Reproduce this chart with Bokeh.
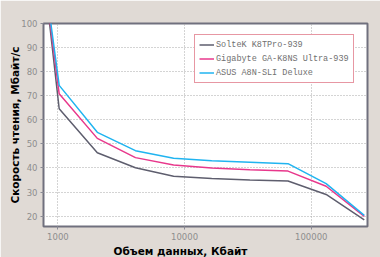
from bokeh.plotting import figure
from bokeh.models import Range1d, FixedTicker, Legend, LegendItem, Title
from bokeh.embed import file_html
from bokeh.resources import INLINE

# Data (block size, KB) and read speed (MB/s)
sizes = [512, 1024, 2048, 4096, 8192, 16384, 32768, 65536, 131072, 262144]
soltek = [205, 64.6, 46.3, 40.1, 36.6, 35.6, 35.0, 34.6, 29.0, 18.5]
gigabyte = [195, 70.8, 52.3, 44.3, 41.2, 40.0, 39.3, 38.7, 32.4, 19.9]
asus = [192, 74.3, 54.8, 47.2, 44.0, 43.0, 42.4, 41.8, 33.5, 20.3]

series_names = ["SolteK K8TPro-939", "Gigabyte GA-K8NS Ultra-939", "ASUS A8N-SLI Deluxe"]
series_colors = ["#5e5e6e", "#e8388c", "#20b4f0"]

x_ticks = [1000, 10000, 100000]
x_tick_labels = ["1000", "10000", "100000"]
y_ticks = [20, 30, 40, 50, 60, 70, 80, 90, 100]

x_title = "Объем данных, Кбайт"
y_title = "Скорость чтения, Мбайт/с"

BG = "#e0dad5"

p = figure(width=380, height=257, x_axis_type="log",
           x_range=Range1d(770, 278000), y_range=Range1d(15.7, 100),
           output_backend="svg", toolbar_location=None,
           min_border_left=43, min_border_right=13, min_border_top=23,
           min_border_bottom=31)
p.border_fill_color = BG
p.background_fill_color = "white"
p.outline_line_color = "#70707e"
p.outline_line_width = 2

renderers = []
for ys, c in zip([soltek, gigabyte, asus], series_colors):
    r = p.line(sizes, ys, line_color=c, line_width=1.5)
    renderers.append(r)

# axes
p.xaxis.ticker = FixedTicker(ticks=x_ticks)
p.xaxis.major_label_overrides = {t: l for t, l in zip(x_ticks, x_tick_labels)}
p.yaxis.ticker = FixedTicker(ticks=y_ticks)
for ax in (p.xaxis, p.yaxis):
    ax.axis_line_color = None
    ax.major_tick_line_color = "#8a8a95"
    ax.major_tick_out = 3
    ax.major_tick_in = 0
    ax.minor_tick_line_color = None
    ax.major_label_text_font = "DejaVu Sans"
    ax.major_label_text_font_size = "8.5px"
    ax.major_label_text_color = "#8e8e8e"
    ax.major_label_standoff = 3

# axis titles
xt = Title(text=x_title, align="left", offset=70, standoff=0,
           text_font="DejaVu Sans", text_font_style="bold",
           text_font_size="10.5px", text_color="black")
p.add_layout(xt, "below")
p.yaxis.axis_label = y_title
p.yaxis.axis_label_text_font = "DejaVu Sans"
p.yaxis.axis_label_text_font_style = "bold"
p.yaxis.axis_label_text_font_size = "10.5px"
p.yaxis.axis_label_text_color = "black"
p.yaxis.axis_label_standoff = -3

p.xgrid.grid_line_color = "#a8a8a8"
p.xgrid.grid_line_dash = "1 2"
p.ygrid.grid_line_color = "#a8a8a8"
p.ygrid.grid_line_dash = "1 2"

legend = Legend(items=[LegendItem(label=n, renderers=[r]) for n, r in zip(series_names, renderers)],
                location=(151, 143))
legend.border_line_color = "#d03048"
legend.border_line_width = 1.5
legend.background_fill_color = "white"
legend.background_fill_alpha = 1
legend.label_text_font = "Liberation Mono"
legend.label_text_font_size = "8.5px"
legend.label_text_color = "#707070"
legend.glyph_width = 15
legend.glyph_height = 11
legend.label_height = 11
legend.label_standoff = 2
legend.spacing = 3
legend.padding = 4
legend.margin = 0
p.add_layout(legend, "center")

open("out.html", "w").write(file_html(p, INLINE))
